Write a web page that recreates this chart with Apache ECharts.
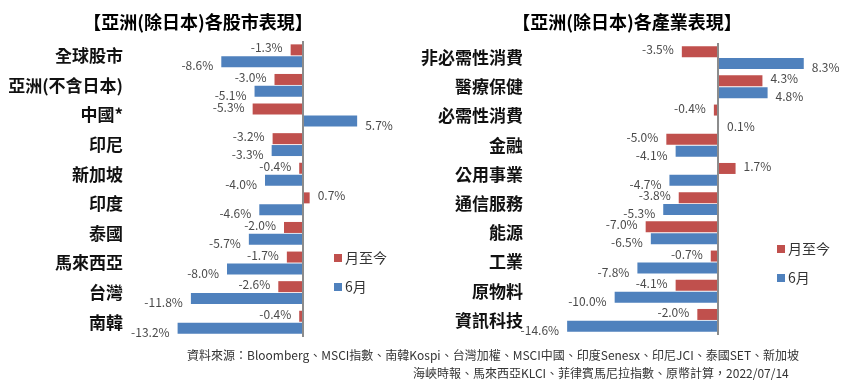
<!DOCTYPE html>
<html><head><meta charset="utf-8">
<script src="https://cdn.jsdelivr.net/npm/echarts@6/dist/echarts.min.js"></script>
<style>html,body{margin:0;padding:0;background:#fff}#c{width:849px;height:388px}</style>
</head><body><div id="c"></div>
<script>
const marketCats = ['全球股市','亞洲(不含日本)','中國*','印尼','新加坡','印度','泰國','馬來西亞','台灣','南韓'];
const marketMTD = [-1.3,-3.0,-5.3,-3.2,-0.4,0.7,-2.0,-1.7,-2.6,-0.4];
const marketJune = [-8.6,-5.1,5.7,-3.3,-4.0,-4.6,-5.7,-8.0,-11.8,-13.2];
const sectorCats = ['非必需性消費','醫療保健','必需性消費','金融','公用事業','通信服務','能源','工業','原物料','資訊科技'];
const sectorMTD = [-3.5,4.3,-0.4,-5.0,1.7,-3.8,-7.0,-0.7,-4.1,-2.0];
const sectorJune = [8.3,4.8,0.1,-4.1,-4.7,-5.3,-6.5,-7.8,-10.0,-14.6];
const seriesNames = ['月至今','6月'];

const RED = '#C0504D', BLUE = '#4F81BD';
const FONT = '"Noto Sans CJK TC","Noto Sans",sans-serif';

function items(arr, dy) {
  return arr.map(v => ({
    value: v,
    label: { position: v < 0 ? 'left' : 'right', offset: [0, dy] }
  }));
}
function barSeries(name, idx, data, color, dy, withLine) {
  const s = {
    name: name, type: 'bar', xAxisIndex: idx, yAxisIndex: idx,
    data: items(data, dy), barWidth: 11, barGap: '8%',
    itemStyle: { color: color },
    label: {
      show: true, distance: 8, fontSize: 12, color: '#4a4a4a', fontFamily: FONT,
      formatter: p => p.value.toFixed(1) + '%'
    }
  };
  if (withLine) {
    s.markLine = {
      silent: true, symbol: 'none', label: { show: false },
      lineStyle: { color: '#8c8c8c', type: 'solid', width: 2 },
      data: [{ xAxis: 0 }]
    };
  }
  return s;
}

const chart = echarts.init(document.getElementById('c'));
chart.setOption({
  animation: false,
  backgroundColor: '#fff',
  textStyle: { fontFamily: FONT },
  title: [
    { text: '【亞洲(除日本)各股市表現】', left: 193, top: 8, textAlign: 'center',
      textStyle: { fontSize: 18, fontWeight: 'bold', color: '#000', fontFamily: FONT } },
    { text: '【亞洲(除日本)各產業表現】', left: 622, top: 8, textAlign: 'center',
      textStyle: { fontSize: 18, fontWeight: 'bold', color: '#000', fontFamily: FONT } }
  ],
  legend: [
    { data: seriesNames, left: 329, top: 246, orient: 'vertical', icon: 'rect',
      itemWidth: 8, itemHeight: 8, itemGap: 15,
      textStyle: { fontSize: 14, color: '#333', fontFamily: FONT, padding: [0, 0, 0, -2] } },
    { data: seriesNames, left: 772, top: 237, orient: 'vertical', icon: 'rect',
      itemWidth: 8, itemHeight: 8, itemGap: 15,
      textStyle: { fontSize: 14, color: '#333', fontFamily: FONT, padding: [0, 0, 0, -2] } }
  ],
  grid: [
    { left: 170, right: 489, top: 41, bottom: 51 },
    { left: 563, right: 38, top: 43, bottom: 53 }
  ],
  xAxis: [
    { gridIndex: 0, type: 'value', min: -14, max: 6, show: false },
    { gridIndex: 1, type: 'value', min: -15, max: 9, show: false }
  ],
  yAxis: [
    { gridIndex: 0, type: 'category', data: marketCats, inverse: true,
      axisLine: { show: false, onZero: false }, axisTick: { show: false },
      axisLabel: { margin: 47, fontSize: 17, fontWeight: 'bold', color: '#111', fontFamily: FONT } },
    { gridIndex: 1, type: 'category', data: sectorCats, inverse: true,
      axisLine: { show: false, onZero: false }, axisTick: { show: false },
      axisLabel: { margin: 40, fontSize: 17, fontWeight: 'bold', color: '#111', fontFamily: FONT } }
  ],
  series: [
    barSeries(seriesNames[0], 0, marketMTD, RED, -2, true),
    barSeries(seriesNames[1], 0, marketJune, BLUE, 4, false),
    barSeries(seriesNames[0], 1, sectorMTD, RED, -2, true),
    barSeries(seriesNames[1], 1, sectorJune, BLUE, 4, false)
  ],
  graphic: [
    { type: 'text', left: 187, top: 349,
      style: { text: '資料來源：Bloomberg、MSCI指數、南韓Kospi、台灣加權、MSCI中國、印度Senesx、印尼JCI、泰國SET、新加坡',
        font: '12px ' + FONT, fill: '#333' } },
    { type: 'text', left: 413, top: 367,
      style: { text: '海峽時報、馬來西亞KLCI、菲律賓馬尼拉指數、原幣計算，2022/07/14',
        font: '12px ' + FONT, fill: '#333' } }
  ]
});
</script>
</body></html>
